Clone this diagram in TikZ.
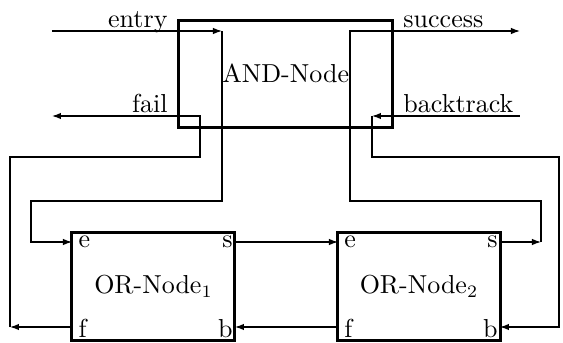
\documentclass[tikz,border=0pt]{standalone}
\usetikzlibrary{arrows.meta}
\begin{document}
\begin{tikzpicture}[x=0.4pt,y=-0.4pt,
  thinline/.style={line width=0.5pt},
  arr/.style={thinline,-{Latex[length=3.6pt,width=2.6pt]}},
  every node/.style={font=\fontsize{10.4}{12.5}\selectfont},
  bigbox/.style={draw,line width=1.2pt,inner sep=0pt,minimum width=85.8pt,minimum height=42.8pt},
  orbox/.style={draw,line width=1.2pt,inner sep=0pt,minimum width=65.2pt,minimum height=43.2pt},
  lbl/.style={inner sep=0pt}]
\useasboundingbox (0,0) rectangle (563,342);
% boxes
\node[bigbox] (and) at (285.75,73.5) {AND-Node};
\node[orbox] (or1) at (153.5,286) {OR-Node$_1$};
\node[orbox] (or2) at (419,286) {OR-Node$_2$};
% port labels
\node[lbl,anchor=base west] (e1) at (78,247) {e};
\node[lbl,anchor=base east] (s1) at (233,247) {s};
\node[lbl,anchor=base west] (f1) at (78,337) {f};
\node[lbl,anchor=base east] (b1) at (233,337) {b};
\node[lbl,anchor=base west] (e2) at (344,247) {e};
\node[lbl,anchor=base east] (s2) at (498,247) {s};
\node[lbl,anchor=base west] (f2) at (344,337) {f};
\node[lbl,anchor=base east] (b2) at (498,337) {b};
% external labels
\node[lbl,anchor=base east] (lentry) at (168,27) {entry};
\node[lbl,anchor=base east] (lfail) at (168,112) {fail};
\node[lbl,anchor=base west] (lsucc) at (403,27) {success};
\node[lbl,anchor=base west] (lback) at (403,112) {backtrack};
% coordinates
\coordinate (entryStart) at (52,31);
\coordinate (entryEnd) at (222,31);
\coordinate (failStart) at (200,116);
\coordinate (failEnd) at (52,116);
\coordinate (succStart) at (350,31);
\coordinate (succEnd) at (520,31);
\coordinate (backStart) at (520,116);
\coordinate (backEnd) at (372,116);
\coordinate (or1e) at (72,242);
\coordinate (or1s) at (235,242);
\coordinate (or1f) at (72,327);
\coordinate (or1b) at (235,327);
\coordinate (or2e) at (338,242);
\coordinate (or2s) at (500,242);
\coordinate (or2f) at (338,327);
\coordinate (or2b) at (500,327);
\coordinate (cf) at (10,327);
\coordinate (cs) at (541,242);
% entry
\draw[arr] (entryStart) -- (entryEnd);
\draw[arr] (entryEnd) -- (222,201) -- (31,201) -- (31,242) -- (or1e);
% fail
\draw[arr] (or1f) -- (cf);
\draw[arr] (cf) -- (10,157) -- (200,157) -- (failStart) -- (failEnd);
% success
\draw[arr] (or2s) -- (cs);
\draw[arr] (cs) -- (541,201) -- (350,201) -- (succStart) -- (succEnd);
% backtrack
\draw[arr] (backStart) -- (backEnd);
\draw[arr] (backEnd) -- (372,157) -- (559,157) -- (559,327) -- (or2b);
% between OR nodes
\draw[arr] (or1s) -- (or2e);
\draw[arr] (or2f) -- (or1b);
\end{tikzpicture}
\end{document}
